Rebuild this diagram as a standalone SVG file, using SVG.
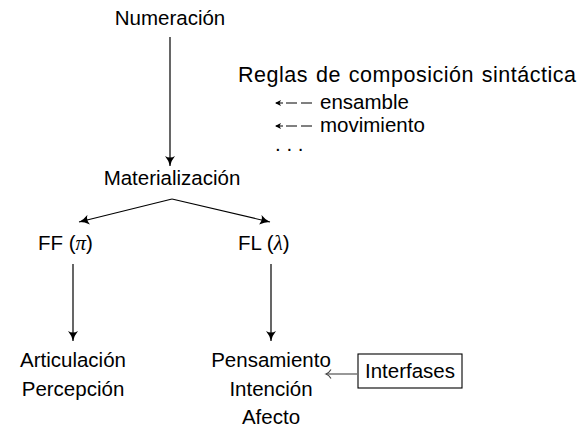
<svg xmlns="http://www.w3.org/2000/svg" width="579" height="429" viewBox="0 0 579 429">
<style>
text{font-family:"Liberation Sans",Arial,sans-serif;font-size:20.5px;fill:#000}
.c{text-anchor:middle}
.m{font-family:"Liberation Serif",serif;font-style:italic;font-size:21px}
.ln{stroke:#000;stroke-width:1.2;fill:none}
.sm{stroke:#000;stroke-width:1;fill:none}
</style>
<defs>
<marker id="ah" markerWidth="12" markerHeight="10" refX="10" refY="5" orient="auto" markerUnits="userSpaceOnUse">
<path d="M0,0 Q5,4 10,5 Q5,6 0,10 Q3,5 0,0Z" fill="#000"/>
</marker>
</defs>
<g id="connectors">
<line class="ln" x1="170" y1="37" x2="170" y2="166" marker-end="url(#ah)"/>
<line class="ln" x1="172" y1="199" x2="79" y2="222" marker-end="url(#ah)"/>
<line class="ln" x1="172" y1="199" x2="270" y2="222" marker-end="url(#ah)"/>
<line class="ln" x1="73" y1="264" x2="73" y2="341" marker-end="url(#ah)"/>
<line class="ln" x1="271" y1="264" x2="271" y2="341" marker-end="url(#ah)"/>
<line x1="326" y1="374" x2="357" y2="374" stroke="#444" stroke-width="1.1"/>
<path d="M331,369.5 Q329,373 326,374 Q329,375 331,378.5" stroke="#444" stroke-width="1.1" fill="none"/>
</g>
<g id="numeracion"><text class="c" x="170" y="25">Numeración</text></g>
<g id="reglas">
<text x="238" y="82" style="font-size:21.5px;word-spacing:1.5px" textLength="338">Reglas de composición sintáctica</text>
<path class="sm" d="M276,103 H283 M286,103 H297 M301,103 H312"/>
<path d="M275,103 L281,100 L279.5,103 L281,106Z" fill="#000"/>
<text x="320" y="109">ensamble</text>
<path class="sm" d="M276,126 H283 M286,126 H297 M301,126 H312"/>
<path d="M275,126 L281,123 L279.5,126 L281,129Z" fill="#000"/>
<text x="320" y="132">movimiento</text>
<text x="275" y="151">. . .</text>
</g>
<g id="materializacion"><text class="c" x="172" y="185">Materialización</text></g>
<g id="ff"><text x="38" y="250">FF (<tspan class="m">π</tspan>)</text></g>
<g id="fl"><text x="238" y="250">FL (<tspan class="m">λ</tspan>)</text></g>
<g id="articulacion"><text class="c" x="73" y="367">Articulación</text><text class="c" x="73" y="396">Percepción</text></g>
<g id="pensamiento"><text class="c" x="271" y="367">Pensamiento</text><text class="c" x="271" y="396">Intención</text><text class="c" x="271" y="424">Afecto</text></g>
<g id="interfases"><rect x="358" y="354" width="104" height="34" fill="none" stroke="#000" stroke-width="1.1"/><text class="c" x="410" y="378">Interfases</text></g>
</svg>
